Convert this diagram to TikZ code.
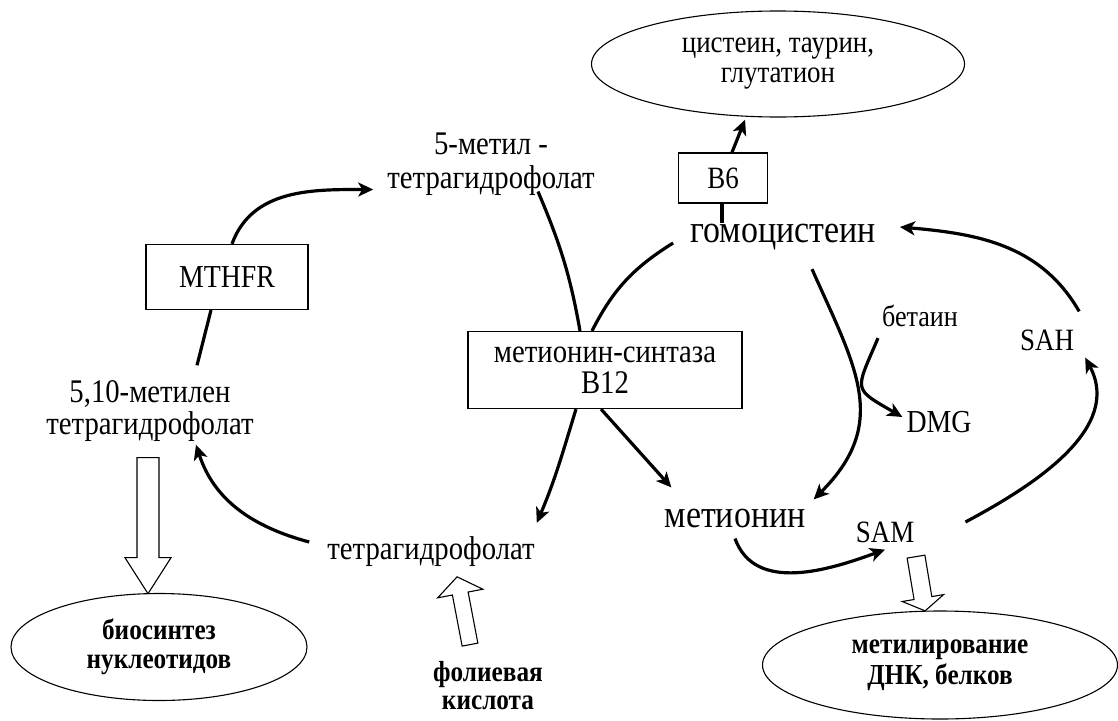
\documentclass[tikz,border=0pt]{standalone}
\usepackage{fontspec}
\setmainfont{Liberation Serif}[FakeStretch=0.87]
\usetikzlibrary{arrows.meta,shapes.geometric}

% open block arrow: length, head length, half shaft, half head
\newcommand{\blockarrow}[4]{%
  \draw[openarr] (-#3,0) -- (-#3,{#1-#2}) -- (-#4,{#1-#2}) -- (0,#1)
    -- (#4,{#1-#2}) -- (#3,{#1-#2}) -- (#3,0) -- cycle;}

\begin{document}
\begin{tikzpicture}[x=1pt, y=-1pt,
    lbl/.style={font=\fontsize{33}{34}\selectfont, align=center, inner sep=1pt},
    biglbl/.style={font=\fontsize{39}{44}\selectfont, inner sep=1pt},
    enzyme/.style={rectangle, draw, line width=1.2pt, inner sep=0pt, align=center, font=\fontsize{33}{31}\selectfont},
    product/.style={ellipse, draw, line width=1.1pt, inner sep=0pt, align=center},
    flow/.style={line width=3.2pt, -{Stealth[length=15pt, width=14pt, inset=4pt]}},
    link/.style={line width=3.2pt},
    openarr/.style={draw, line width=1.1pt, fill=white, line join=miter},
  ]
  \useasboundingbox (0,0) rectangle (1118,720);

  % Nodes
  \node[product, minimum width=373pt, minimum height=106pt, font=\fontsize{31}{30}\selectfont] (cys) at (778,64) {цистеин, таурин,\\глутатион};
  \node[enzyme, minimum width=89pt, minimum height=50pt, font=\fontsize{31}{31}\selectfont] (b6) at (723,178) {B6};
  \node[enzyme, minimum width=162pt, minimum height=65pt, font=\fontsize{32}{32}\selectfont] (mthfr) at (227,277) {MTHFR};
  \node[enzyme, minimum width=274pt, minimum height=77pt] (ms) at (605,370) {метионин-синтаза\\B12};

  \node[lbl] (mthf) at (491,164) {5-метил -\\тетрагидрофолат};
  \node[lbl, font=\fontsize{33}{32}\selectfont] (mthf510) at (150,411) {5,10-метилен\\тетрагидрофолат};
  \node[lbl] (thf) at (431,552) {тетрагидрофолат};
  \node[biglbl] (homo) at (783,237) {гомоцистеин};
  \node[biglbl] (met) at (735,518) {метионин};
  \node[lbl, font=\fontsize{30}{30}\selectfont] (betaine) at (920,316) {бетаин};
  \node[lbl, font=\fontsize{32}{32}\selectfont] (dmg) at (939,422) {DMG};
  \node[lbl, font=\fontsize{31}{31}\selectfont] (sam) at (885,532) {SAM};
  \node[lbl, font=\fontsize{31}{31}\selectfont] (sah) at (1047,340) {SAH};
  \node[lbl, font=\bfseries\fontsize{29}{28}\selectfont] (folic) at (488,686) {фолиевая\\кислота};

  \node[product, minimum width=296pt, minimum height=107pt, font=\bfseries\fontsize{29}{29}\selectfont] (nucl) at (159,647) {биосинтез\\нуклеотидов};
  \node[product, minimum width=355pt, minimum height=108pt, font=\bfseries\fontsize{29}{31}\selectfont] (methyl) at (940,665) {метилирование\\ДНК, белков};

  % Folate cycle
  \draw[flow] ([xshift=5pt]mthfr.north) to[out=70, in=180] ([xshift=-13pt,yshift=7pt]mthf.south west);
  \draw[link] ([xshift=-16pt]mthfr.south) -- ([xshift=47pt,yshift=14pt]mthf510.north);
  \draw[flow] ([xshift=-17pt,yshift=10pt]thf.west) to[out=165, in=-72] ([xshift=46pt,yshift=-2pt]mthf510.south);
  \draw[link] ([xshift=47pt,yshift=5pt]mthf.south) to[out=-67, in=100] ([xshift=-25pt]ms.north);
  \draw[flow] ([xshift=-29pt]ms.south) to[out=-107, in=67] ([xshift=1pt,yshift=13pt]thf.north east);

  % Methionine cycle
  \draw[link] ([xshift=-16pt,yshift=-6pt]homo.west) to[out=-148, in=63] ([xshift=-13pt]ms.north);
  \draw[flow] ([xshift=-4pt]ms.south) -- ([xshift=8pt,yshift=20pt]met.north west);
  \draw[flow] ([xshift=29pt,yshift=-18pt]homo.south) to[out=-66, in=45, looseness=1.2] ([xshift=7pt,yshift=8pt]met.north east);
  \draw[flow] ([xshift=-42pt,yshift=-10pt]betaine.south) to[out=-113, in=150, looseness=1.8] ([xshift=-3pt,yshift=5pt]dmg.west);
  \draw[flow] ([yshift=-10pt]met.south) to[out=-70, in=200] ([yshift=-6pt]sam.south);
  \draw[flow] ([xshift=50pt,yshift=10pt]sam.east) to[out=28, in=-62] ([xshift=10pt,yshift=-6pt]sah.south east);
  \draw[flow] ([xshift=4pt,yshift=17pt]sah.north east) to[out=120, in=-5] ([xshift=23pt,yshift=10pt]homo.east);

  % Transsulfuration
  \draw[link] ([xshift=-61pt]homo.north) -- ([xshift=-1pt]b6.south);
  \draw[flow] ([xshift=9pt]b6.north) -- ([yshift=-3pt]cys.238);

  % Open arrows
  \begin{scope}[shift={([xshift=-2pt,yshift=-15pt]mthf510.south)}]
    \blockarrow{136}{36}{11}{23}
  \end{scope}
  \begin{scope}[shift={([xshift=31pt,yshift=-13pt]sam.south)}, rotate=9.5]
    \blockarrow{55}{13}{9}{21}
  \end{scope}
  \begin{scope}[shift={([xshift=-18pt,yshift=16pt]folic.north)}, rotate=190.8]
    \blockarrow{69}{17}{8}{23}
  \end{scope}
\end{tikzpicture}
\end{document}
